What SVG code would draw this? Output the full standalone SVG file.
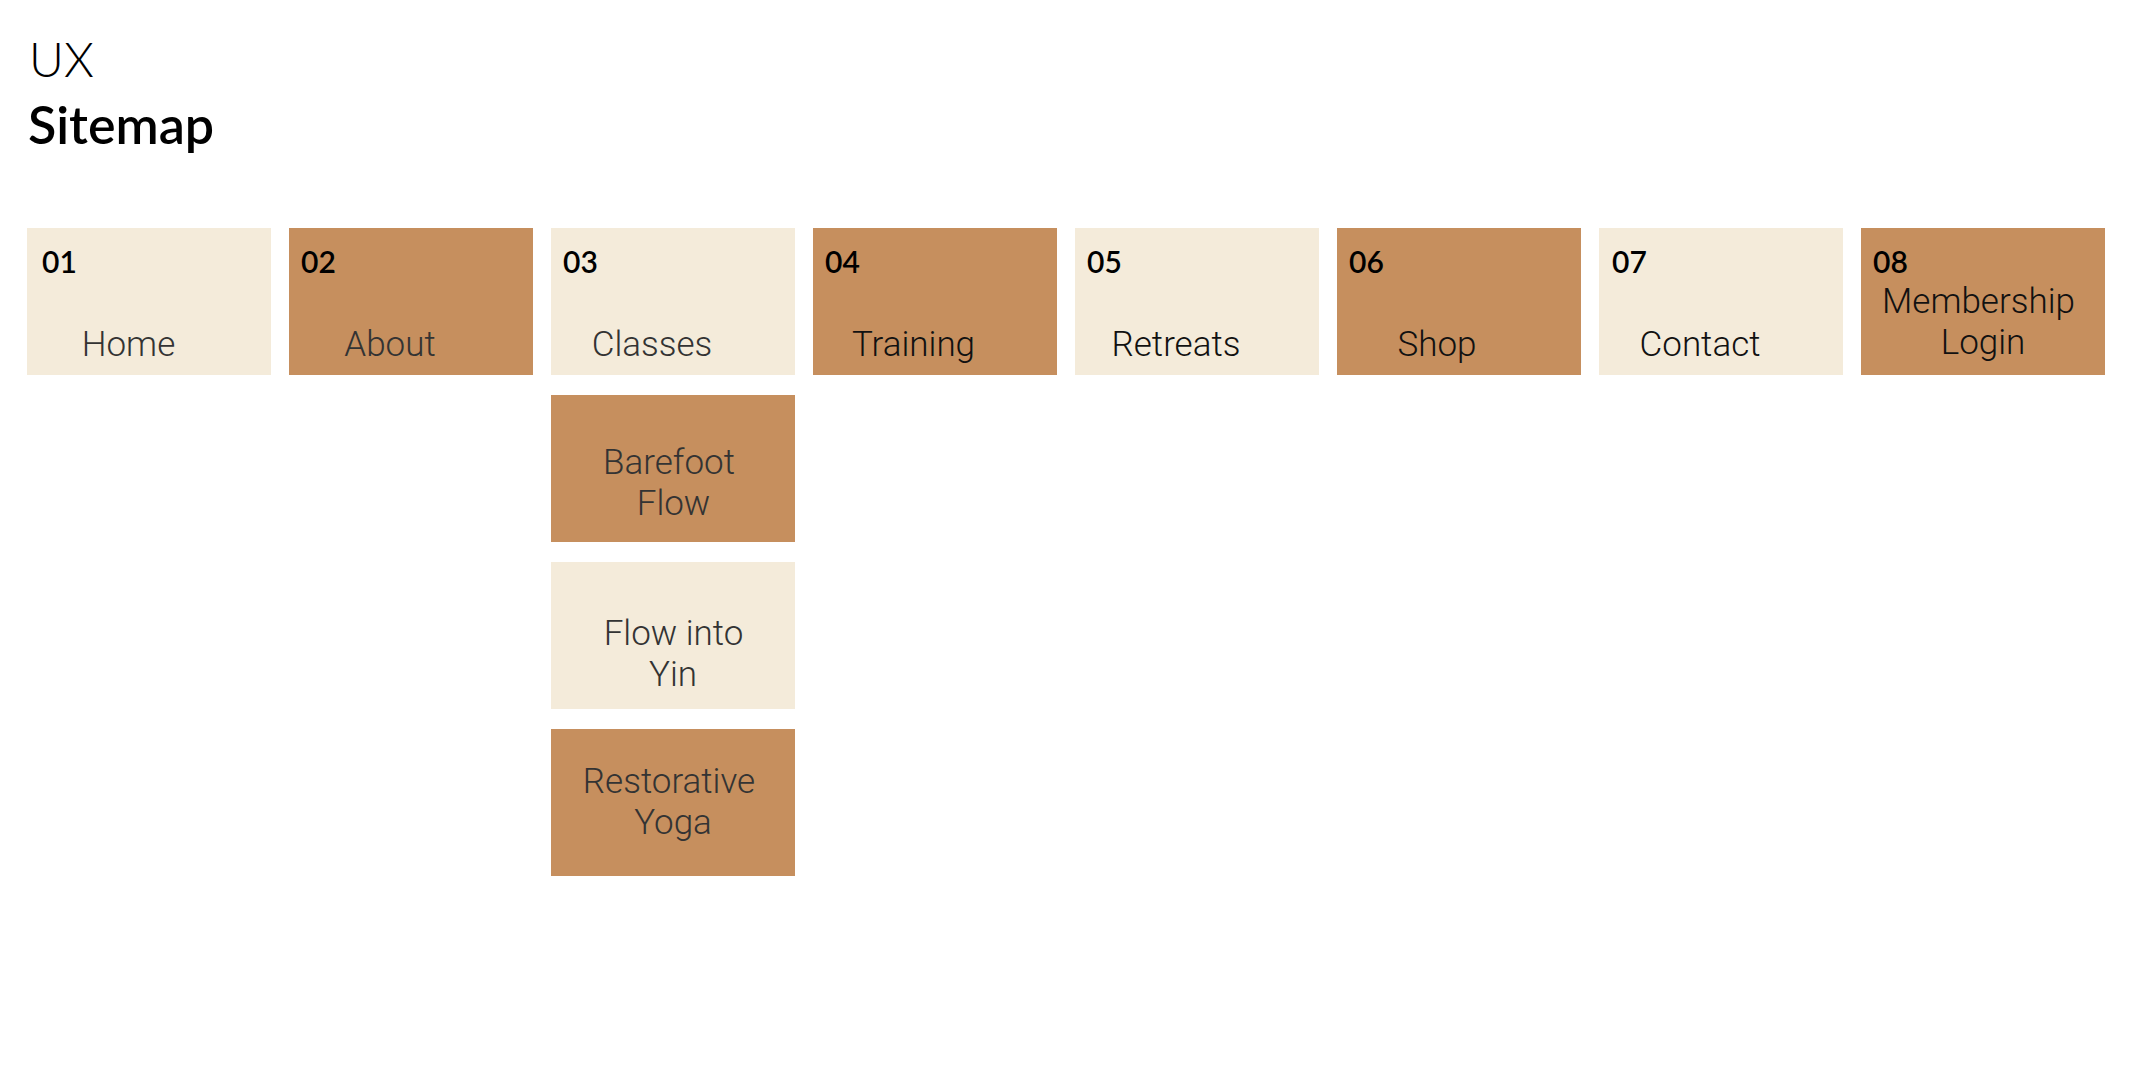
<svg xmlns="http://www.w3.org/2000/svg" width="2147" height="1080" viewBox="0 0 2147 1080">
<style>
.light{fill:#F4EBDA}
.dark{fill:#C68F5E}
.num{font-family:Lato,"Liberation Sans",sans-serif;font-weight:600;font-size:30px;fill:#000}
.lbl{font-family:Roboto,"Liberation Sans",sans-serif;font-weight:300;font-size:35px;text-anchor:middle}
.g{fill:#333}
.k{fill:#111}
</style>
<rect width="2147" height="1080" fill="#fff"/>
<g id="title">
<text x="29" y="77" font-family="Lato,'Liberation Sans',sans-serif" font-weight="300" font-size="48" fill="#000">UX</text>
<text x="28" y="144" font-family="Lato,'Liberation Sans',sans-serif" font-weight="600" font-size="52" fill="#000">Sitemap</text>
</g>
<g id="connectors"></g>
<g id="n01"><rect class="light" x="27" y="228" width="244" height="147"/><text class="num" x="42" y="273">01</text><text class="lbl g" x="128.5" y="356">Home</text></g>
<g id="n02"><rect class="dark" x="289" y="228" width="244" height="147"/><text class="num" x="301" y="273">02</text><text class="lbl g" x="390" y="356">About</text></g>
<g id="n03"><rect class="light" x="551" y="228" width="244" height="147"/><text class="num" x="563" y="273">03</text><text class="lbl g" x="652" y="356">Classes</text></g>
<g id="n04"><rect class="dark" x="813" y="228" width="244" height="147"/><text class="num" x="825" y="273">04</text><text class="lbl k" x="913.5" y="356">Training</text></g>
<g id="n05"><rect class="light" x="1075" y="228" width="244" height="147"/><text class="num" x="1087" y="273">05</text><text class="lbl k" x="1176" y="356">Retreats</text></g>
<g id="n06"><rect class="dark" x="1337" y="228" width="244" height="147"/><text class="num" x="1349" y="273">06</text><text class="lbl k" x="1437" y="356">Shop</text></g>
<g id="n07"><rect class="light" x="1599" y="228" width="244" height="147"/><text class="num" x="1612" y="273">07</text><text class="lbl k" x="1700" y="356">Contact</text></g>
<g id="n08"><rect class="dark" x="1861" y="228" width="244" height="147"/><text class="num" x="1873" y="273">08</text><text class="lbl k" x="1978.5" y="313">Membership</text><text class="lbl k" x="1983" y="354">Login</text></g>
<g id="n03a"><rect class="dark" x="551" y="395" width="244" height="147"/><text class="lbl g" x="669" y="474">Barefoot</text><text class="lbl g" x="673.5" y="515">Flow</text></g>
<g id="n03b"><rect class="light" x="551" y="562" width="244" height="147"/><text class="lbl g" x="673.5" y="645">Flow into</text><text class="lbl g" x="673" y="686">Yin</text></g>
<g id="n03c"><rect class="dark" x="551" y="729" width="244" height="147"/><text class="lbl g" x="669" y="793">Restorative</text><text class="lbl g" x="673" y="834">Yoga</text></g>
</svg>
